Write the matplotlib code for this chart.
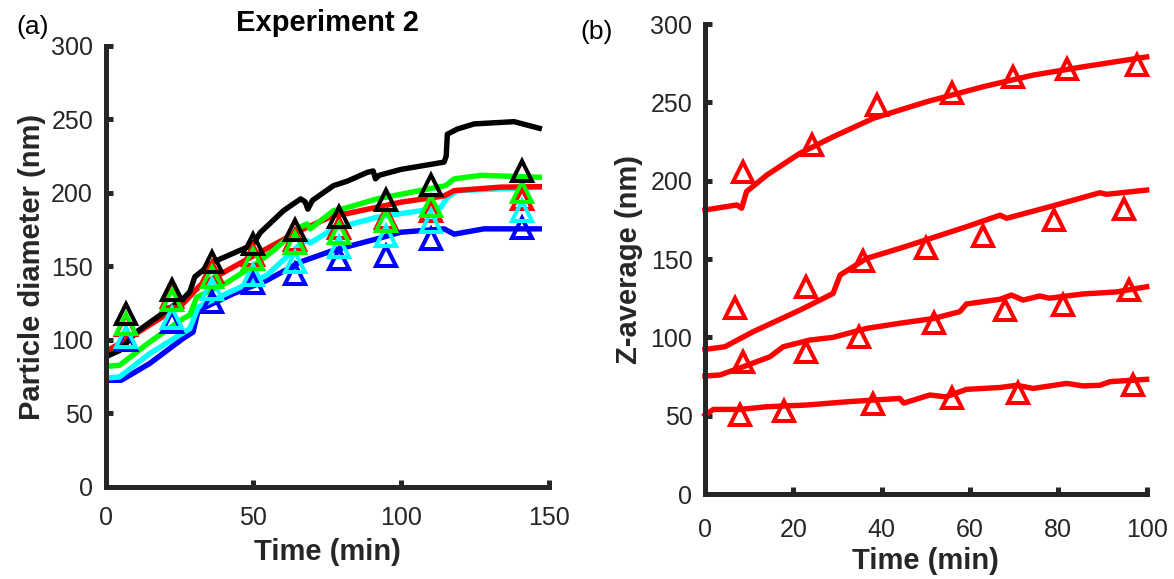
import matplotlib
matplotlib.use('Agg')
import matplotlib.pyplot as plt

plt.rcParams['font.family'] = ['Liberation Sans', 'DejaVu Sans']

# ---- panel (a): Experiment 2, five size fractions ----
colors_a = {'black': '#000000', 'green': '#00FF00', 'red': '#FF0000', 'cyan': '#00FFFF', 'blue': '#0000FF'}

t_black = [0, 4.9, 10.4, 20.6, 26.2, 28.5, 30.2, 36.4, 48.9, 50.5, 52.3, 60.2, 66, 67.5, 68.4, 70, 77.1, 81.7, 88.5, 90.5, 91.3, 92.5, 99.8, 114.5, 115.2, 115.6, 119, 124.7, 138.2, 146.7]
d_black = [88.5, 93, 105.4, 120, 128, 132.8, 143, 153, 164, 167, 173, 188, 196, 194, 189, 195, 205, 208, 214, 215, 209.6, 212, 216, 221, 225, 240, 243.5, 247, 248.5, 244]
t_green = [0, 4.75, 14.9, 26.2, 28.5, 30.8, 41, 51.1, 56.8, 65.8, 68.1, 69.2, 77.1, 81.7, 91.8, 115, 117.9, 127, 146.7]
d_green = [82, 82.8, 98.6, 114.5, 117, 129, 139, 152, 161, 176.7, 179, 175.6, 188, 190, 196, 205, 209.6, 212, 210.7]
t_red = [0, 9.3, 26.2, 31.9, 48.9, 65.8, 77.1, 81.7, 99.8, 114.5, 117.9, 133.7, 146.7]
d_red = [92, 103, 124.7, 137, 156, 174.5, 184.6, 186, 193.7, 198, 201.6, 204, 204.3]
t_cyan = [0, 4.75, 14.9, 28.5, 31.3, 43.2, 54.5, 65.8, 68, 69.2, 77.1, 91.8, 113.3, 115.6, 119, 146.7]
d_cyan = [74, 74.9, 90.7, 107.7, 122.4, 133.7, 144, 165, 167.7, 166, 175.6, 183.5, 190, 197, 201.6, 203.9]
t_blue = [0, 5.3, 14.9, 26.2, 29.6, 31.3, 43.2, 54.5, 65.8, 77.1, 91.8, 99.8, 114.5, 117.9, 128, 146.7]
d_blue = [72.6, 72.6, 84, 101, 105.4, 120, 131.5, 140.5, 153, 161, 168.8, 173.3, 175.6, 172, 175.6, 175.6]

tm_a = [7, 22.5, 36, 50, 64, 79, 95, 110, 141]
m_black = [118, 134, 153, 165, 175, 184, 195.5, 205.7, 214.7]
m_green = [111, 127, 143, 155, 166, 173, 181, 191, 200.5]
m_red = [110, 129, 146, 158, 168, 176, 183, 188, 196]
m_cyan = [102, 115, 135, 144, 153, 163, 171, 180, 188]
m_blue = [100, 112, 126, 139, 145, 155, 157, 169, 176]

# ---- panel (b): Z-average, four runs ----
t_z1 = [0, 7.2, 8.3, 9.4, 14, 21.5, 29, 38.1, 50.2, 63, 74.3, 85.6, 100]
z1 = [181.3, 184.5, 182.4, 193, 203.6, 217.5, 228, 239.8, 250.4, 260, 267.4, 272.7, 279]
t_z2 = [0, 4.5, 10.9, 21.5, 29, 30.6, 36.6, 44.1, 50.9, 59.2, 66.8, 68.3, 78.1, 89.4, 90.9, 100]
z2 = [92.3, 94, 103.6, 117.4, 128, 139.8, 150.4, 156.8, 163, 170.6, 178, 176, 183.4, 192.3, 191.3, 194]
t_z3 = [0, 3.4, 8.7, 14.7, 17.7, 23.8, 29, 36.6, 44.1, 51.7, 57.7, 59.2, 66.8, 69.4, 72, 75.8, 78, 85.6, 93.2, 100]
z3 = [75.3, 76, 81.3, 87.6, 94, 98.3, 100, 105.7, 109, 112, 116.4, 121.3, 124.3, 127, 123.8, 126.4, 125, 127.7, 129, 132.3]
t_z4 = [0, 1.9, 7.9, 14, 23, 32.8, 44.1, 45, 50.9, 54.5, 59.2, 66.8, 70.6, 74.3, 81.9, 85.6, 89.4, 91.7, 100]
z4 = [50.4, 54, 54, 55.7, 56.8, 59, 61, 58, 63.2, 62, 66.8, 68, 69.4, 67.4, 70.6, 69, 69.4, 71.7, 73.2]

tm_z1 = [8.7, 24.2, 38.9, 56, 69.8, 81.9, 97.9]
mz1 = [205.7, 222.8, 248.3, 256, 266.4, 271, 273.8]
tm_z2 = [6.9, 22.9, 35.8, 50, 62.9, 79, 94.9]
mz2 = [118.5, 132.3, 149, 156.8, 164.7, 175, 182]
tm_z3 = [8.7, 22.9, 34.9, 51.9, 67.9, 81, 96]
mz3 = [84.5, 90.8, 100.4, 109, 117.4, 120.6, 130.2]
tm_z4 = [7.9, 17.9, 38, 56, 70.9, 97]
mz4 = [50.4, 53, 57.4, 61, 64.3, 69.6]

AXC = '#262626'
LW = 3.9
MS = 14.5
MEW = 2.9


def style(ax):
    for s in ['top', 'right']:
        ax.spines[s].set_visible(False)
    for s in ['left', 'bottom']:
        ax.spines[s].set_linewidth(3.6)
        ax.spines[s].set_color(AXC)
    ax.tick_params(direction='in', length=5, width=3.6, colors=AXC, labelsize=18)


fig = plt.figure(figsize=(11.74, 5.79), dpi=100)
axa = fig.add_axes([0.0899, 0.1589, 0.3778, 0.7617])
axb = fig.add_axes([0.6005, 0.1468, 0.3762, 0.8117])

# panel (a) lines then markers
for t, d, c in [(t_blue, d_blue, 'blue'), (t_cyan, d_cyan, 'cyan'), (t_red, d_red, 'red'),
                (t_green, d_green, 'green'), (t_black, d_black, 'black')]:
    axa.plot(t, d, color=colors_a[c], lw=LW, solid_joinstyle='round')
for m, c in [(m_blue, 'blue'), (m_red, 'red'), (m_cyan, 'cyan'), (m_green, 'green'), (m_black, 'black')]:
    axa.plot(tm_a, m, ls='none', marker='^', ms=MS, mew=MEW, mfc='none', mec=colors_a[c])

axa.set_xlim(0, 150); axa.set_ylim(0, 300)
axa.set_xticks([0, 50, 100, 150]); axa.set_yticks(range(0, 301, 50))
style(axa)
axa.tick_params(axis='x', pad=14); axa.tick_params(axis='y', pad=9)
axa.set_xlabel('Time (min)', fontsize=21, fontweight='bold', color=AXC)
axa.set_ylabel('Particle diameter (nm)', fontsize=21, fontweight='bold', color=AXC)
axa.xaxis.set_label_coords(0.5, -0.115)
axa.yaxis.set_label_coords(-0.135, 0.5)
axa.text(0.5, 1.052, 'Experiment 2', transform=axa.transAxes, ha='center', va='center',
         fontsize=21, fontweight='bold')

# panel (b)
for t, z in [(t_z1, z1), (t_z2, z2), (t_z3, z3), (t_z4, z4)]:
    axb.plot(t, z, color='#FF0000', lw=LW, clip_on=False, solid_joinstyle='round')
for t, z in [(tm_z1, mz1), (tm_z2, mz2), (tm_z3, mz3), (tm_z4, mz4)]:
    axb.plot(t, z, ls='none', marker='^', ms=MS, mew=MEW, mfc='none', mec='#FF0000', clip_on=False)

axb.set_xlim(0, 100); axb.set_ylim(0, 300)
axb.set_xticks(range(0, 101, 20)); axb.set_yticks(range(0, 301, 50))
style(axb)
axb.tick_params(axis='x', pad=17); axb.tick_params(axis='y', pad=9)
axb.set_xlabel('Time (min)', fontsize=21, fontweight='bold', color=AXC)
axb.set_ylabel('Z-average (nm)', fontsize=21, fontweight='bold', color=AXC)
axb.xaxis.set_label_coords(0.5, -0.112)
axb.yaxis.set_label_coords(-0.14, 0.5)

fig.text(0.0136, 0.953, '(a)', fontsize=19, va='center', ha='left')
fig.text(0.494, 0.945, '(b)', fontsize=19, va='center', ha='left')

fig.savefig('out.png', dpi=100)
